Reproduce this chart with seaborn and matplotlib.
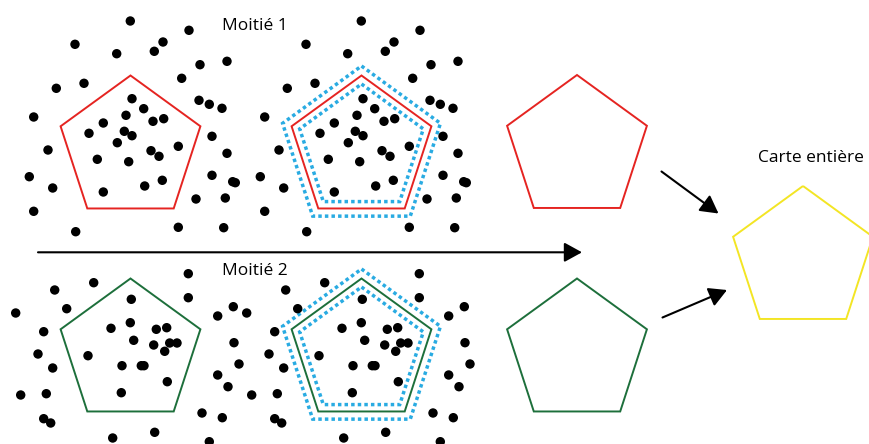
import numpy as np
import pandas as pd
import matplotlib
matplotlib.use("Agg")
import matplotlib.pyplot as plt
from matplotlib.patches import RegularPolygon
import seaborn as sns

# points of the first half (left panel, pixel coords, y down)
top_x = [130.3, 189, 75, 163, 116.7, 154.3, 200, 227, 56.3, 84, 181.7, 132, 199, 209.3,
         222, 143.7, 33.7, 126, 153, 163.7, 103.3, 89, 124.3, 132, 117.3, 212, 178.3, 48,
         151, 159, 227, 97.3, 128.7, 29.3, 212, 232.7, 235.3, 52.7, 162.3, 144.7, 103.3,
         196, 225.3, 33.7, 75.7, 178.3, 223.7]
top_y = [21, 30.3, 44.3, 42, 53.7, 51.3, 64.7, 61.3, 88.3, 83.3, 78.3, 98.7, 100.3, 104.3,
         108.3, 108.7, 117, 115.3, 121.3, 118.7, 123, 133.3, 131.3, 135.7, 142.7, 136.3, 146.3, 150,
         150.7, 156.3, 153.3, 159.3, 161.7, 176.7, 175.3, 181.7, 182.7, 188, 180.3, 186, 192,
         199, 198, 211.3, 231.7, 227.3, 227.7]

# points of the second half
bot_x = [188.3, 93.7, 54.7, 131.3, 188.3, 66.7, 15.7, 233.3, 217.7, 43.7, 111, 130.3,
         156.3, 166.7, 133.7, 153.7, 169.7, 177, 164.7, 38, 88, 234, 52.7, 122, 141.3, 144,
         239, 46.3, 20.7, 121.3, 167.3, 217.7, 228, 202, 222.3, 43.7, 50.7, 112.7, 154.7, 209.3]
bot_y = [273.7, 282.7, 290, 299.3, 297.7, 308.7, 313, 306.7, 316, 331.7, 328.3, 322.7,
         329.3, 327.7, 340.3, 345, 343, 343, 351.3, 354, 355.7, 342.7, 368, 365.7, 365.7, 365.7,
         364, 393.7, 395, 392.7, 381.7, 375, 386.7, 413, 417.7, 418.7, 423, 438, 432.3, 441.7]

# pentagons: centre x, centre y, radius, colour, style
pent_x = [130.5, 361.5, 361.5, 361.5, 577, 130.5, 361.5, 361.5, 361.5, 577, 803]
pent_y = [149, 149, 149, 149, 148.5, 352, 352, 352, 352, 352, 259.5]
pent_r = [73.5, 73.5, 83, 65, 73.5, 73.5, 73.5, 83, 65, 73.5, 73.5]
pent_c = ["#e52421", "#e52421", "#29abe2", "#29abe2", "#e52421",
          "#1d6f3b", "#1d6f3b", "#29abe2", "#29abe2", "#1d6f3b", "#f3e524"]
pent_ls = ["-", "-", ":", ":", "-", "-", "-", ":", ":", "-", "-"]

labels = ["Moitié 1", "Moitié 2", "Carte entière"]
label_x = [255, 255, 811]
label_y = [30.5, 275, 161.5]

shift = 231  # offset of the copy in the middle panel

top = pd.DataFrame({"x": top_x, "y": top_y})
bot = pd.DataFrame({"x": bot_x, "y": bot_y})
pts = pd.concat([top, top.assign(x=top.x + shift), bot, bot.assign(x=bot.x + shift)])

fig = plt.figure(figsize=(8.69, 4.44), dpi=100)
ax = fig.add_axes([0, 0, 1, 1])
sns.scatterplot(data=pts, x="x", y="y", color="black", s=46, edgecolor="none", ax=ax, zorder=3)

for x, y, r, c, ls in zip(pent_x, pent_y, pent_r, pent_c, pent_ls):
    if ls == ":":
        poly = RegularPolygon((x, y), 5, radius=r, orientation=np.pi, fill=False,
                              edgecolor=c, linewidth=2.5, linestyle=(0, (1, 0.9)))
    else:
        poly = RegularPolygon((x, y), 5, radius=r, orientation=np.pi, fill=False,
                              edgecolor=c, linewidth=1.4)
    ax.add_patch(poly)

arrow = dict(arrowstyle="-|>,head_length=0.6,head_width=0.33", color="black",
             lw=1.5, shrinkA=0, shrinkB=0, mutation_scale=18)
ax.annotate("", xy=(582, 252.3), xytext=(38, 252.3), arrowprops=arrow)
ax.annotate("", xy=(718.5, 213.5), xytext=(661.5, 171.5), arrowprops=arrow)
ax.annotate("", xy=(727, 290), xytext=(662.5, 317.5), arrowprops=arrow)

for t, x, y in zip(labels, label_x, label_y):
    ax.text(x, y, t, ha="center", va="baseline", fontsize=12.5, family="Open Sans")

ax.set_xlim(0, 869)
ax.set_ylim(444, 0)
ax.axis("off")
fig.savefig("out.png", dpi=100)
